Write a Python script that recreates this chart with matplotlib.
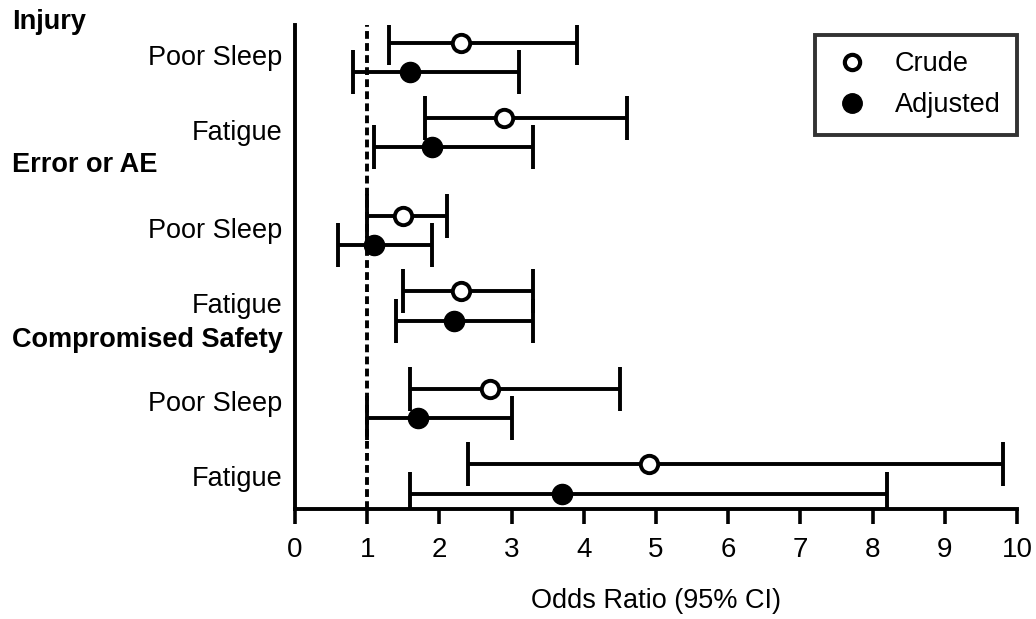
import numpy as np
import matplotlib
matplotlib.use("Agg")
import matplotlib.pyplot as plt
from matplotlib.lines import Line2D
from matplotlib.transforms import blended_transform_factory

plt.rcParams['font.family'] = ['Liberation Sans', 'DejaVu Sans']

# data
groups = ['Injury', 'Error or AE', 'Compromised Safety']
measures = ['Poor Sleep', 'Fatigue']

crude_or = [2.3, 2.9, 1.5, 2.3, 2.7, 4.9]
crude_lo = [1.3, 1.8, 1.0, 1.5, 1.6, 2.4]
crude_hi = [3.9, 4.6, 2.1, 3.3, 4.5, 9.8]

adj_or = [1.6, 1.9, 1.1, 2.2, 1.7, 3.7]
adj_lo = [0.8, 1.1, 0.6, 1.4, 1.0, 1.6]
adj_hi = [3.1, 3.3, 1.9, 3.3, 3.0, 8.2]

xticks = list(range(0, 11))

# layout: row centres, extra gap between groups
group_gap = 0.3
pair_off = 0.195
centres = []
for g in range(len(groups)):
    for m in range(len(measures)):
        centres.append(g * (len(measures) + group_gap) + m)
centres = np.array(centres)

fig = plt.figure(figsize=(10.36, 6.19), dpi=100)
ax = fig.add_axes([0.2847, 0.1777, 0.697, 0.782])

lw = 2.8
cap = 16

c_or = np.array(crude_or)
a_or = np.array(adj_or)
ax.errorbar(c_or, centres - pair_off,
            xerr=[c_or - np.array(crude_lo), np.array(crude_hi) - c_or],
            fmt='o', color='black', mfc='white', mec='black', ms=12.5, mew=2.8,
            elinewidth=lw, capsize=cap, capthick=lw, zorder=3)
ax.errorbar(a_or, centres + pair_off,
            xerr=[a_or - np.array(adj_lo), np.array(adj_hi) - a_or],
            fmt='o', color='black', ms=14.5,
            elinewidth=lw, capsize=cap, capthick=lw, zorder=3)

ax.axvline(1, color='black', lw=2.8, ls=(0, (2.0, 1.1)), zorder=1)

ax.set_xlim(0, 10)
ax.set_ylim(centres[-1] + 0.40, centres[0] - 0.433)
ax.set_xticks(xticks)
ax.set_xticklabels([str(t) for t in xticks], fontsize=20)
ax.set_yticks(centres - 0.04)
ax.set_yticklabels(measures * len(groups), fontsize=19.5)
ax.tick_params(axis='y', length=0, pad=9)
ax.tick_params(axis='x', length=11, width=2.6, pad=9)

for s in ['top', 'right']:
    ax.spines[s].set_visible(False)
for s in ['left', 'bottom']:
    ax.spines[s].set_linewidth(2.8)

ax.set_xlabel('Odds Ratio (95% CI)', fontsize=19.5, labelpad=18)

# group headers
header_shift = [0.47, 0.87, 0.84]
trans = blended_transform_factory(fig.transFigure, ax.transData)
for g, name in enumerate(groups):
    y = centres[g * len(measures)] - header_shift[g]
    ax.text(12 / 1036, y, name, transform=trans,
            ha='left', va='center', fontsize=19.5, fontweight='bold', clip_on=False)

handles = [
    Line2D([], [], ls='none', marker='o', mfc='white', mec='black', ms=11, mew=3),
    Line2D([], [], ls='none', marker='o', color='black', ms=14),
]
leg = ax.legend(handles, ['Crude', 'Adjusted'], loc='upper right',
                bbox_to_anchor=(1.0, 0.979), borderaxespad=0, fontsize=19.5,
                frameon=True, fancybox=False, edgecolor='black',
                handletextpad=0.85, borderpad=0.6, labelspacing=0.55,
                handlelength=1.5)
leg.get_frame().set_linewidth(2.8)

fig.savefig('out.png', dpi=100)
